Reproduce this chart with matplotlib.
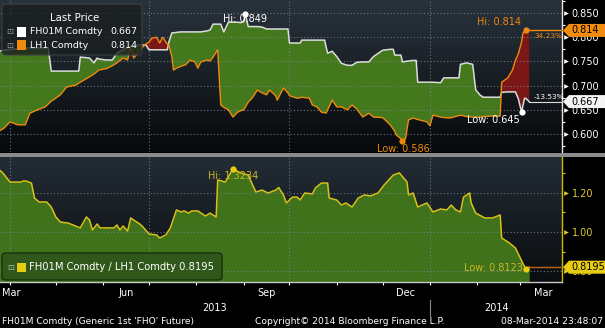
import numpy as np
import pandas as pd
import matplotlib.pyplot as plt
import matplotlib.dates as mdates
from matplotlib.colors import LinearSegmentedColormap
from matplotlib.patches import Polygon, FancyBboxPatch, Rectangle
from matplotlib.lines import Line2D
from matplotlib.ticker import FixedLocator, MultipleLocator, FormatStrFormatter, FuncFormatter
from matplotlib.transforms import blended_transform_factory

plt.rcParams['font.family'] = ['DejaVu Sans']

# last price of both contracts
top_dates = ['2013-03-25', '2013-03-28', '2013-04-01', '2013-04-06', '2013-04-11', '2013-04-14',
             '2013-04-19', '2013-04-24', '2013-04-26', '2013-04-28', '2013-04-30', '2013-05-04',
             '2013-05-08', '2013-05-14', '2013-05-16', '2013-05-17', '2013-05-23', '2013-05-26',
             '2013-05-28', '2013-05-29', '2013-06-03', '2013-06-07', '2013-06-10', '2013-06-14',
             '2013-06-17', '2013-06-19', '2013-06-21', '2013-06-23', '2013-06-27', '2013-06-29',
             '2013-07-01', '2013-07-03', '2013-07-06', '2013-07-08', '2013-07-10', '2013-07-12',
             '2013-07-13', '2013-07-14', '2013-07-16', '2013-07-17', '2013-07-19', '2013-07-22',
             '2013-07-25', '2013-07-28', '2013-07-31', '2013-08-02', '2013-08-04', '2013-08-08',
             '2013-08-10', '2013-08-12', '2013-08-15', '2013-08-17', '2013-08-19', '2013-08-22',
             '2013-08-25', '2013-08-28', '2013-08-30', '2013-09-01', '2013-09-02', '2013-09-04',
             '2013-09-07', '2013-09-10', '2013-09-13', '2013-09-16', '2013-09-18', '2013-09-22',
             '2013-09-23', '2013-09-27', '2013-09-30', '2013-10-01', '2013-10-06', '2013-10-08',
             '2013-10-09', '2013-10-14', '2013-10-16', '2013-10-19', '2013-10-22', '2013-10-24',
             '2013-10-25', '2013-10-26', '2013-10-29', '2013-11-01', '2013-11-04', '2013-11-08',
             '2013-11-11', '2013-11-14', '2013-11-18', '2013-11-22', '2013-11-25', '2013-12-01',
             '2013-12-06', '2013-12-08', '2013-12-09', '2013-12-10', '2013-12-13', '2013-12-14',
             '2013-12-16', '2013-12-18', '2013-12-21', '2013-12-23', '2013-12-24', '2013-12-30',
             '2014-01-01', '2014-01-03', '2014-01-08', '2014-01-10', '2014-01-14', '2014-01-20',
             '2014-01-21', '2014-01-25', '2014-01-29', '2014-01-31', '2014-02-03', '2014-02-05',
             '2014-02-10', '2014-02-16', '2014-02-17', '2014-02-21', '2014-02-24', '2014-02-26',
             '2014-02-28', '2014-03-02', '2014-03-03', '2014-03-04', '2014-03-05', '2014-03-07']
fh01m = [0.7714, 0.773, 0.775, 0.776, 0.777, 0.778,
         0.778, 0.778, 0.778, 0.730, 0.730, 0.730,
         0.730, 0.730, 0.730, 0.759, 0.757, 0.747,
         0.757, 0.755, 0.753, 0.753, 0.767, 0.774,
         0.779, 0.781, 0.782, 0.784, 0.784, 0.784,
         0.774, 0.774, 0.774, 0.774, 0.774, 0.774,
         0.774, 0.790, 0.809, 0.809, 0.810, 0.811,
         0.811, 0.811, 0.811, 0.811, 0.811, 0.813,
         0.815, 0.827, 0.827, 0.827, 0.811, 0.831,
         0.831, 0.831, 0.830, 0.832, 0.849, 0.822,
         0.822, 0.822, 0.821, 0.817, 0.817, 0.817,
         0.817, 0.817, 0.817, 0.788, 0.788, 0.788,
         0.794, 0.794, 0.794, 0.794, 0.794, 0.794,
         0.780, 0.767, 0.771, 0.760, 0.746, 0.742,
         0.742, 0.748, 0.749, 0.749, 0.760, 0.773,
         0.775, 0.775, 0.763, 0.763, 0.763, 0.749,
         0.750, 0.751, 0.752, 0.752, 0.707, 0.707,
         0.707, 0.707, 0.706, 0.716, 0.716, 0.716,
         0.744, 0.747, 0.744, 0.691, 0.680, 0.676,
         0.676, 0.676, 0.686, 0.687, 0.687, 0.687,
         0.672, 0.645, 0.660, 0.674, 0.673, 0.667]
lh1 = [0.6064, 0.612, 0.625, 0.619, 0.619, 0.643,
       0.650, 0.656, 0.662, 0.668, 0.672, 0.681,
       0.697, 0.701, 0.705, 0.707, 0.718, 0.724,
       0.729, 0.732, 0.735, 0.741, 0.747, 0.757,
       0.753, 0.778, 0.757, 0.765, 0.780, 0.786,
       0.790, 0.798, 0.800, 0.788, 0.800, 0.790,
       0.786, 0.784, 0.760, 0.732, 0.736, 0.740,
       0.743, 0.753, 0.749, 0.736, 0.749, 0.753,
       0.751, 0.759, 0.774, 0.660, 0.655, 0.650,
       0.635, 0.645, 0.648, 0.650, 0.655, 0.666,
       0.676, 0.691, 0.685, 0.681, 0.691, 0.679,
       0.670, 0.695, 0.685, 0.679, 0.674, 0.675,
       0.676, 0.674, 0.660, 0.656, 0.645, 0.644,
       0.643, 0.650, 0.670, 0.656, 0.656, 0.650,
       0.660, 0.652, 0.635, 0.643, 0.635, 0.634,
       0.619, 0.610, 0.605, 0.598, 0.590, 0.586,
       0.590, 0.629, 0.633, 0.631, 0.630, 0.625,
       0.617, 0.639, 0.635, 0.634, 0.633, 0.638,
       0.639, 0.636, 0.635, 0.635, 0.635, 0.636,
       0.637, 0.637, 0.707, 0.716, 0.732, 0.752,
       0.767, 0.790, 0.809, 0.812, 0.814, 0.814]

# FH01M / LH1 spread ratio
ratio_dates = ['2013-03-25', '2013-03-27', '2013-04-01', '2013-04-08', '2013-04-10', '2013-04-12',
               '2013-04-15', '2013-04-17', '2013-04-20', '2013-04-25', '2013-04-28', '2013-05-01',
               '2013-05-04', '2013-05-09', '2013-05-17', '2013-05-21', '2013-05-23', '2013-05-25',
               '2013-05-28', '2013-05-30', '2013-06-08', '2013-06-10', '2013-06-12', '2013-06-14',
               '2013-06-17', '2013-06-19', '2013-06-22', '2013-06-25', '2013-06-27', '2013-07-01',
               '2013-07-06', '2013-07-08', '2013-07-12', '2013-07-15', '2013-07-19', '2013-07-22',
               '2013-07-24', '2013-07-27', '2013-07-29', '2013-08-02', '2013-08-07', '2013-08-10',
               '2013-08-14', '2013-08-15', '2013-08-20', '2013-08-25', '2013-08-30', '2013-09-04',
               '2013-09-06', '2013-09-09', '2013-09-13', '2013-09-17', '2013-09-22', '2013-09-24',
               '2013-09-27', '2013-09-29', '2013-10-03', '2013-10-06', '2013-10-08', '2013-10-11',
               '2013-10-16', '2013-10-18', '2013-10-22', '2013-10-26', '2013-10-27', '2013-11-01',
               '2013-11-04', '2013-11-07', '2013-11-11', '2013-11-15', '2013-11-19', '2013-11-23',
               '2013-11-28', '2013-12-02', '2013-12-08', '2013-12-12', '2013-12-17', '2013-12-18',
               '2013-12-21', '2013-12-24', '2013-12-30', '2014-01-03', '2014-01-08', '2014-01-12',
               '2014-01-15', '2014-01-18', '2014-01-21', '2014-01-23', '2014-01-27', '2014-01-28',
               '2014-01-31', '2014-02-06', '2014-02-11', '2014-02-16', '2014-02-17', '2014-02-22',
               '2014-02-26', '2014-03-04', '2014-03-05', '2014-03-07']
ratio = [1.318, 1.305, 1.256, 1.256, 1.262, 1.260,
         1.251, 1.174, 1.154, 1.154, 1.128, 1.077,
         1.051, 1.046, 1.021, 1.077, 1.062, 1.010,
         1.041, 1.021, 1.021, 1.036, 1.010, 1.031,
         1.005, 1.072, 1.056, 1.041, 1.026, 0.990,
         0.985, 0.969, 0.985, 1.021, 1.113, 1.103,
         1.108, 1.097, 1.108, 1.108, 1.082, 1.097,
         1.077, 1.267, 1.256, 1.3234, 1.303, 1.292,
         1.256, 1.205, 1.215, 1.200, 1.215, 1.228,
         1.190, 1.149, 1.179, 1.179, 1.164, 1.200,
         1.195, 1.226, 1.251, 1.251, 1.174, 1.164,
         1.138, 1.149, 1.128, 1.174, 1.190, 1.185,
         1.200, 1.241, 1.292, 1.303, 1.256, 1.190,
         1.200, 1.128, 1.149, 1.103, 1.118, 1.113,
         1.138, 1.113, 1.103, 1.179, 1.200, 1.149,
         1.097, 1.072, 1.072, 1.087, 0.969, 0.944,
         0.918, 0.821, 0.8123, 0.8195]

top_ticks = [0.600, 0.650, 0.700, 0.750, 0.800, 0.850]
bottom_ticks = [0.80, 1.00, 1.20]
quarter_starts = ['2013-04-01', '2013-07-01', '2013-10-01', '2014-01-01']

W, H = 605, 328
WHITE = '#dcdcdc'
ORANGE = '#ee8a10'
YELLOW = '#d8c21a'
GREEN = '#44781d'
RED = '#7c1717'
GRID = '#7e8790'


def fx(px):
    return px / W


def fy(py):
    return 1 - py / H


fig = plt.figure(figsize=(W / 100, H / 100), dpi=100, facecolor='black')

top_rect = [0, fy(152), fx(562), 152 / H]
bot_rect = [0, fy(282), fx(562), 125 / H]


def backdrop(rect, top_col, bottom_col):
    bg = fig.add_axes(rect, zorder=0)
    cmap = LinearSegmentedColormap.from_list('shade', [bottom_col, top_col])
    bg.imshow(np.linspace(0, 1, 256).reshape(-1, 1), cmap=cmap, aspect='auto',
              origin='lower', extent=[0, 1, 0, 1])
    bg.set_axis_off()


backdrop(top_rect, '#29333d', '#07090b')
backdrop(bot_rect, '#232d36', '#0a0c0e')

xmin = mdates.date2num(pd.Timestamp('2013-03-25 10:00'))
xmax = mdates.date2num(pd.Timestamp('2014-03-28 12:00'))

td = mdates.date2num(pd.to_datetime(top_dates))
fh = np.array(fh01m)
lh = np.array(lh1)
rd = mdates.date2num(pd.to_datetime(ratio_dates))
rv = np.array(ratio)
qx = mdates.date2num(pd.to_datetime(quarter_starts))

# ---- upper panel: prices ----
ax1 = fig.add_axes(top_rect, zorder=1)
ax1.patch.set_visible(False)
ax1.set_xlim(xmin, xmax)
ax1.set_ylim(0.5628, 0.8769)
ax1.fill_between(td, fh, lh, where=fh >= lh, interpolate=True, color=GREEN, lw=0, zorder=1)
ax1.fill_between(td, fh, lh, where=fh < lh, interpolate=True, color=RED, lw=0, zorder=1)
for y in top_ticks:
    ax1.axhline(y, color=GRID, lw=0.8, ls=(0, (1, 2)), alpha=0.8, zorder=2)
for x in qx:
    ax1.axvline(x, color=GRID, lw=0.8, ls=(0, (1, 2)), alpha=0.8, zorder=2)
ax1.plot(td, fh, color=WHITE, lw=1.1, zorder=3)
ax1.plot(td, lh, color=ORANGE, lw=1.0, zorder=3)
ax1.plot([td[-1], xmax], [fh[-1], fh[-1]], color=WHITE, lw=0.8, zorder=3, clip_on=False)
ax1.plot([td[-1], xmax], [lh[-1], lh[-1]], color=ORANGE, lw=1.0, zorder=3, clip_on=False)

# ---- lower panel: ratio ----
ax2 = fig.add_axes(bot_rect, zorder=1)
ax2.patch.set_visible(False)
ax2.set_xlim(xmin, xmax)
ax2.set_ylim(0.7436, 1.3846)
ax2.fill_between(rd, rv, 0.7436, color='#3f721a', lw=0, zorder=1)
for y in bottom_ticks:
    ax2.axhline(y, color=GRID, lw=0.8, ls=(0, (1, 2)), alpha=0.8, zorder=2)
for x in qx:
    ax2.axvline(x, color=GRID, lw=0.8, ls=(0, (1, 2)), alpha=0.8, zorder=2)
ax2.plot(rd, rv, color=YELLOW, lw=1.1, zorder=3)
ax2.plot([rd[-1], xmax], [rv[-1], rv[-1]], color='#b8641a', lw=1.0, zorder=3, clip_on=False)

# axes styling
for ax, spine_col, lab_col, ticks, fmt, minor in (
        (ax1, '#e8e8e8', 'white', top_ticks, '%.3f', 0.025),
        (ax2, '#d4b800', '#e0cc30', bottom_ticks, '%.2f', 0.1)):
    for s in ('top', 'left', 'bottom'):
        ax.spines[s].set_visible(False)
    ax.spines['right'].set_color(spine_col)
    ax.spines['right'].set_linewidth(1.0)
    ax.yaxis.tick_right()
    ax.yaxis.set_major_locator(FixedLocator(ticks))
    ax.yaxis.set_major_formatter(FormatStrFormatter(fmt))
    ax.yaxis.set_minor_locator(MultipleLocator(minor))
    ax.tick_params(axis='y', which='major', length=0, pad=7, labelcolor=lab_col, labelsize=7)
    ax.tick_params(axis='y', which='minor', length=2.5, width=0.8, color=lab_col, direction='out')
    tr = blended_transform_factory(ax.transAxes, ax.transData)
    ax.scatter([1 + 4 / 562] * len(ticks), ticks, marker='>', s=11, color=lab_col,
               transform=tr, clip_on=False, zorder=4, linewidths=0)

ax1.tick_params(axis='x', which='both', length=0, labelbottom=False)

ax2.spines['bottom'].set_visible(True)
ax2.spines['bottom'].set_color('#c8c8c8')
ax2.spines['bottom'].set_linewidth(1.0)
ax2.xaxis.set_major_locator(mdates.MonthLocator())
ax2.xaxis.set_major_formatter(FuncFormatter(lambda v, p: ''))
ax2.xaxis.set_minor_locator(mdates.MonthLocator(bymonthday=16))
ax2.xaxis.set_minor_formatter(FuncFormatter(
    lambda v, p: mdates.num2date(v).strftime('%b') if mdates.num2date(v).month in (3, 6, 9, 12) else ''))
ax2.tick_params(axis='x', which='major', length=2.5, width=0.8, color='white', direction='out')
ax2.tick_params(axis='x', which='minor', length=0, pad=4, labelcolor='white', labelsize=7)
fig.text(fx(2), fy(293), 'Mar', ha='left', va='center', color='white', fontsize=7)


# Hi / Low markers
def mark(ax, x, y, text, color, dx, dy, ha, tcolor=None):
    ax.plot([x], [y], 'o', ms=4.5, color=color, mew=0, zorder=6, clip_on=False)
    ax.annotate(text, (x, y), xytext=(dx, dy), textcoords='offset pixels', ha=ha, va='center',
                color=tcolor or color, fontsize=7, zorder=5, annotation_clip=False)


i = np.argmax(fh)
mark(ax1, td[i], fh[i], f'Hi: {fh[i]:.3f}', 'white', 0, -5, 'center')
i = np.argmin(fh)
mark(ax1, td[i], fh[i], f'Low: {fh[i]:.3f}', 'white', -2, -8, 'right')
i = np.argmax(lh)
mark(ax1, td[i], lh[i], f'Hi: {lh[i]:.3f}', ORANGE, -5, 8, 'right')
i = np.argmin(lh)
mark(ax1, td[i], lh[i], f'Low: {lh[i]:.3f}', ORANGE, 1, -8, 'center')
i = np.argmax(rv)
mark(ax2, rd[i], rv[i], f'Hi: {rv[i]:.4f}', '#e8cc10', 0, -7, 'center', '#cbb820')
i = np.argmin(rv)
mark(ax2, rd[i], rv[i], f'Low: {rv[i]:.4f}', '#e8cc10', -3, 1, 'right', '#cbb820')

# period change next to the last points
ax1.annotate(f'{(lh[-1] / lh[0] - 1) * 100:.2f}%', (td[-1], lh[-1]), xytext=(5, -6),
             textcoords='offset pixels', ha='left', va='center', color=ORANGE, fontsize=5.3,
             annotation_clip=False, zorder=5)
ax1.annotate(f'{(fh[-1] / fh[0] - 1) * 100:.2f}%', (td[-1], fh[-1]), xytext=(4, 5),
             textcoords='offset pixels', ha='left', va='center', color='white', fontsize=5.3,
             annotation_clip=False, zorder=5)


# last value tags on the right axis
def value_tag(ax, yval, text, face):
    ydisp = ax.transData.transform((0, yval))[1]
    yf = ydisp / H
    h = 6.5 / H
    pts = [(fx(563), yf), (fx(569), yf + h), (fx(605), yf + h), (fx(605), yf - h), (fx(569), yf - h)]
    fig.add_artist(Polygon(pts, closed=True, transform=fig.transFigure, facecolor=face,
                           edgecolor='none', zorder=5))
    fig.text(fx(571), yf, text, ha='left', va='center', color='black', fontsize=7, zorder=6)


value_tag(ax1, lh[-1], f'{lh[-1]:.3f}', '#f28c0f')
value_tag(ax1, fh[-1], f'{fh[-1]:.3f}', '#f4f4f4')
value_tag(ax2, rv[-1], f'{rv[-1]:.4f}', '#e8cc12')

# panel separator
fig.add_artist(Rectangle((0, fy(157)), 1, 4 / H, transform=fig.transFigure,
                         facecolor='#8c8c8c', edgecolor='none', zorder=4))

# upper legend
fig.add_artist(FancyBboxPatch((fx(2), fy(55)), fx(140), 51 / H,
                              boxstyle='round,pad=0,rounding_size=0.008',
                              transform=fig.transFigure, facecolor=(0.10, 0.12, 0.12, 0.78),
                              edgecolor='#3c4244', lw=0.8, zorder=5))
fig.text(fx(75), fy(18), 'Last Price', ha='center', va='center', color='white', fontsize=7.3, zorder=6)
for py, col, name, val in ((32, 'white', 'FH01M Comdty', f'{fh[-1]:.3f}'),
                           (45, ORANGE, 'LH1 Comdty', f'{lh[-1]:.3f}')):
    fig.text(fx(10), fy(py), '⊡', ha='center', va='center', color='#9a9a9a', fontsize=6, zorder=6)
    fig.add_artist(Rectangle((fx(17), fy(py + 4.5)), fx(9), 9 / H, transform=fig.transFigure,
                             facecolor=col, edgecolor='none', zorder=6))
    fig.text(fx(30), fy(py), name, ha='left', va='center', color='white', fontsize=6.8, zorder=6)
    fig.text(fx(137), fy(py), val, ha='right', va='center', color='white', fontsize=6.8, zorder=6)

# lower legend
fig.add_artist(FancyBboxPatch((fx(2), fy(280)), fx(220), 27 / H,
                              boxstyle='round,pad=0,rounding_size=0.008',
                              transform=fig.transFigure, facecolor='#30581a',
                              edgecolor='#1b300e', lw=1.0, zorder=5))
fig.text(fx(11), fy(267), '⊡', ha='center', va='center', color='#b8b8b8', fontsize=6, zorder=6)
fig.add_artist(Rectangle((fx(17), fy(271.5)), fx(9), 9 / H, transform=fig.transFigure,
                         facecolor='#e8cc12', edgecolor='none', zorder=6))
fig.text(fx(29), fy(267), f'FH01M Comdty / LH1 Comdty {rv[-1]:.4f}', ha='left', va='center',
         color='white', fontsize=7.2, zorder=6)

# year labels
jan = mdates.date2num(pd.Timestamp('2014-01-01'))
jx = ax2.transData.transform((jan, 1.0))[0] / W
fig.add_artist(Line2D([jx, jx], [fy(300), fy(316)], transform=fig.transFigure, color='#888888', lw=0.8))
fig.text(fx(215), fy(308), '2013', ha='center', va='center', color='white', fontsize=7)
fig.text(fx(497), fy(308), '2014', ha='center', va='center', color='white', fontsize=7)

# footer
fig.text(fx(2), fy(321), "FH01M Comdty (Generic 1st 'FHO' Future)", ha='left', va='center',
         color='white', fontsize=6.6)
fig.text(fx(350), fy(321), 'Copyright© 2014 Bloomberg Finance L.P.', ha='center', va='center',
         color='white', fontsize=6.6)
fig.text(fx(603), fy(321), '08-Mar-2014 23:48:07', ha='right', va='center', color='white', fontsize=6.6)

fig.savefig('out.png', dpi=100, facecolor='black')
